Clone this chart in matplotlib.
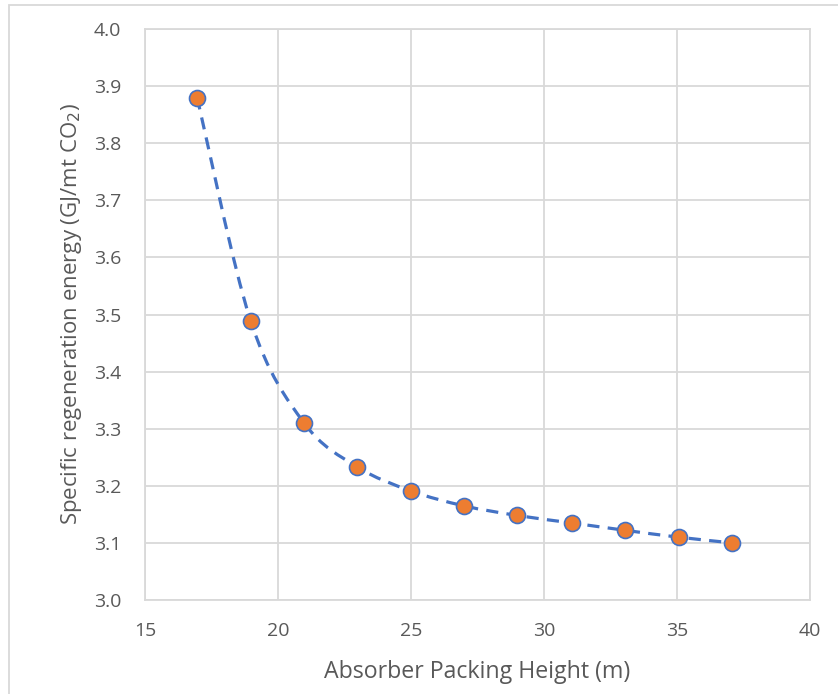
import numpy as np
import matplotlib
matplotlib.use("Agg")
import matplotlib.pyplot as plt
from matplotlib.path import Path
from matplotlib.patches import PathPatch, Rectangle

# data
packing_height = [16.96, 18.97, 20.98, 22.98, 25.0, 26.98, 29.0, 31.04, 33.06, 35.06, 37.08]
regen_energy = [3.880, 3.489, 3.310, 3.233, 3.191, 3.165, 3.148, 3.135, 3.122, 3.110, 3.100]

x_ticks = [15, 20, 25, 30, 35, 40]
y_ticks = [3.0, 3.1, 3.2, 3.3, 3.4, 3.5, 3.6, 3.7, 3.8, 3.9, 4.0]

BLUE = '#4472C4'
ORANGE = '#ED7D31'
GRID = '#D9D9D9'
TEXT = '#595959'

plt.rcParams['font.family'] = ['Open Sans', 'DejaVu Sans']


def smooth_path(x, y):
    """Catmull-Rom style bezier through the points (like Excel's smoothed line)"""
    pts = np.column_stack([x, y])
    n = len(pts)
    verts = [pts[0]]
    codes = [Path.MOVETO]
    for i in range(n - 1):
        p0 = pts[i - 1] if i > 0 else pts[i]
        p1 = pts[i]
        p2 = pts[i + 1]
        p3 = pts[i + 2] if i + 2 < n else pts[i + 1]
        c1 = p1 + (p2 - p0) / 6.0
        c2 = p2 - (p3 - p1) / 6.0
        verts += [c1, c2, p2]
        codes += [Path.CURVE4] * 3
    return Path(verts, codes)


fig = plt.figure(figsize=(8.38, 6.94), dpi=100)
ax = fig.add_axes([145 / 838, 1 - 600 / 694, 665 / 838, 571 / 694])

# outer chart border
fig.patches.append(Rectangle((8.5 / 838, -0.1), 1.1, 1 - 5.5 / 694 + 0.1,
                             transform=fig.transFigure, fill=False,
                             edgecolor=GRID, linewidth=1.3))

patch = PathPatch(smooth_path(packing_height, regen_energy), facecolor='none',
                  edgecolor=BLUE, linewidth=2.3, linestyle=(0, (3.8, 2.6)),
                  capstyle='butt', zorder=3)
ax.add_patch(patch)
ax.plot(packing_height, regen_energy, linestyle='none', marker='o',
        markersize=11.5, markerfacecolor=ORANGE, markeredgecolor=BLUE,
        markeredgewidth=1.2, zorder=4)

ax.set_xlim(15, 40)
ax.set_ylim(3.0, 4.0)
ax.set_xticks(x_ticks)
ax.set_yticks(y_ticks)
ax.set_xticklabels([str(t) for t in x_ticks])
ax.set_yticklabels([f'{t:.1f}' for t in y_ticks])
ax.tick_params(length=0, labelsize=14, labelcolor=TEXT)
ax.tick_params(axis='x', pad=16)
ax.tick_params(axis='y', pad=17)
ax.grid(True, color=GRID, linewidth=1.3)
ax.set_axisbelow(True)
for spine in ax.spines.values():
    spine.set_color(GRID)
    spine.set_linewidth(1.3)

ax.set_xlabel('Absorber Packing Height (m)', fontsize=16.7, color=TEXT, labelpad=14)
ax.set_ylabel('Specific regeneration energy (GJ/mt CO$_2$)', fontsize=16,
              color=TEXT, labelpad=7)

fig.savefig('out.png', dpi=100)
